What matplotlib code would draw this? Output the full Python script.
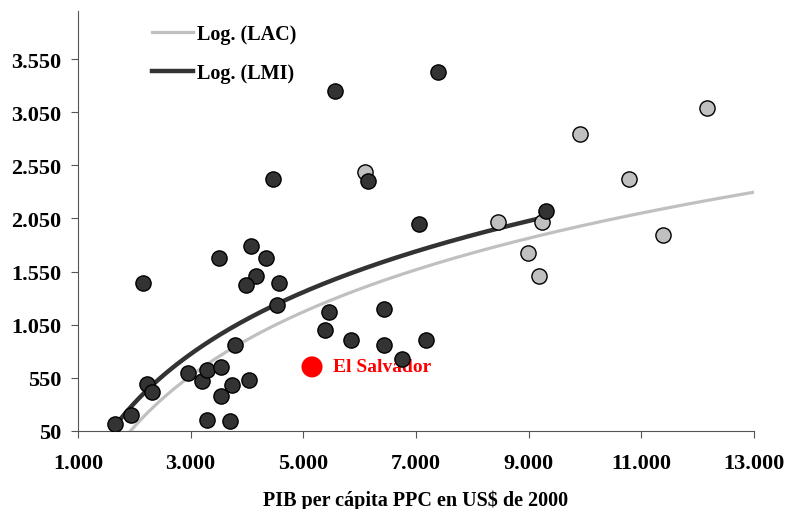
import numpy as np
import matplotlib.pyplot as plt
from matplotlib.ticker import FuncFormatter

plt.rcParams['font.family'] = ['Liberation Serif', 'DejaVu Serif']
plt.rcParams['font.weight'] = 'bold'

# LMI countries (dark points)
lmi_x = [1657, 1941, 2225, 2314, 2154, 2953, 3201, 3290, 3539, 3734, 3539, 3290, 3698,
         3787, 4036, 3503, 4337, 4160, 3982, 4568, 4533, 4071, 4462, 5562, 6148, 7391,
         7053, 9308, 5456, 5385, 5846, 6432, 6432, 6751, 7178]
lmi_y = [116, 200, 493, 417, 1443, 596, 521, 624, 653, 483, 380, 154, 144,
         860, 530, 1679, 1679, 1510, 1425, 1443, 1236, 1792, 2423, 3252, 2404, 3430,
         2000, 2122, 1170, 1001, 907, 1199, 860, 728, 907]

# LAC countries (light points)
lac_x = [6095, 8456, 9237, 9912, 12166, 10782, 11385, 8989, 9184]
lac_y = [2489, 2018, 2018, 2846, 3091, 2423, 1896, 1726, 1510]

# El Salvador
sv_x, sv_y = 5154, 653

# logarithmic trend lines
tr_lac_x = [1923, 2500, 3000, 4000, 5000, 7000, 9000, 11000, 13000]
tr_lac_y = [50, 350, 570, 905, 1170, 1565, 1865, 2100, 2300]
tr_lmi_x = [1657, 2000, 2500, 3000, 4000, 5000, 6000, 7000, 8000, 9308]
tr_lmi_y = [116, 320, 560, 756, 1090, 1349, 1560, 1745, 1900, 2075]

fig = plt.figure(figsize=(7.87, 5.10), dpi=100)
ax = fig.add_axes([0.0991, 0.153, 0.859, 0.823])

# smooth log curve through the read trend points
for tx, ty, col, lw, lab in [(tr_lac_x, tr_lac_y, '#c0c0c0', 2.3, 'Log. (LAC)'),
                             (tr_lmi_x, tr_lmi_y, '#333333', 3.2, 'Log. (LMI)')]:
    a, b = np.polyfit(np.log(tx), ty, 1)
    xs = np.linspace(tx[0], tx[-1], 200)
    ax.plot(xs, a * np.log(xs) + b, color=col, lw=lw, label=lab, zorder=2)

ax.scatter(lac_x, lac_y, s=120, color='#c0c0c0', edgecolor='black', linewidth=1, zorder=3)
ax.scatter(lmi_x, lmi_y, s=120, color='#333333', edgecolor='black', linewidth=1, zorder=4)
ax.scatter([sv_x], [sv_y], s=230, color='#ff0000', edgecolor='none', zorder=5)
ax.text(sv_x + 370, sv_y, 'El Salvador', color='#ff0000', fontsize=14,
        fontweight='bold', va='center', ha='left')

ax.set_xlim(1000, 13000)
ax.set_ylim(50, 4000)
ax.set_xticks(range(1000, 13001, 2000))
ax.set_yticks(range(50, 3551, 500))
fmt = FuncFormatter(lambda v, p: '{:,.0f}'.format(v).replace(',', '.'))
ax.xaxis.set_major_formatter(fmt)
ax.yaxis.set_major_formatter(fmt)
ax.tick_params(labelsize=16, direction='out', length=5, color='#555555')
ax.tick_params(axis='x', pad=11)
ax.tick_params(axis='y', pad=7)
for s in ['top', 'right']:
    ax.spines[s].set_visible(False)
for s in ['left', 'bottom']:
    ax.spines[s].set_color('#555555')
ax.set_xlabel('PIB per cápita PPC en US$ de 2000', fontsize=14.5, fontweight='bold', labelpad=12)

leg = ax.legend(loc='upper left', bbox_to_anchor=(0.082, 1.013), frameon=False,
                fontsize=14.5, handlelength=2.05, handletextpad=0.2, labelspacing=0.95)

fig.savefig('out.png', dpi=100)
